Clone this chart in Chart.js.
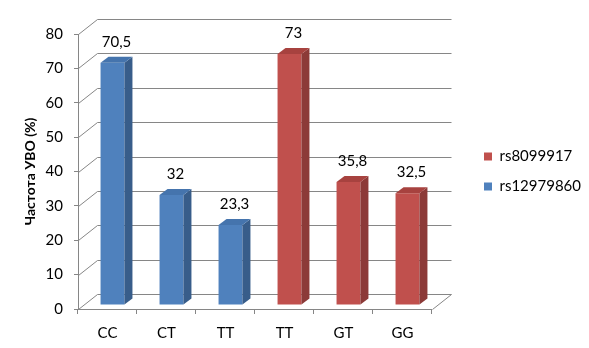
<!DOCTYPE html>
<html>
<head>
<meta charset="utf-8">
<script src="https://cdn.jsdelivr.net/npm/chart.js@4"></script>
<style>
  html, body { margin: 0; padding: 0; background: #fff; }
  #wrap { width: 589px; height: 348px; }
</style>
</head>
<body>
<div id="wrap"><canvas id="myChart"></canvas></div>
<script>
const genotypes = ['CC', 'CT', 'TT', 'TT', 'GT', 'GG'];
const rs8099917 = [null, null, null, 73, 35.8, 32.5];
const rs12979860 = [70.5, 32, 23.3, null, null, null];
const yTicks = [0, 10, 20, 30, 40, 50, 60, 70, 80];

const FONT = 'Lato, "Open Sans", sans-serif';
const GRID = '#868686';

// fake 3D: wall depth, bar offset from the front plane, bar depth
const WALL = { dx: 19, dy: -15 };
const SHIFT = { dx: 5, dy: -4 };
const DEPTH = { dx: 8, dy: -6 };

const shades = {
  rs8099917: { front: '#C0504D', side: '#8C3A38', top: '#A7423F' },
  rs12979860: { front: '#4F81BD', side: '#385D8A', top: '#4574AD' }
};

const crisp = v => Math.round(v) + 0.5;

function line(ctx, x1, y1, x2, y2) {
  ctx.beginPath();
  ctx.moveTo(x1, y1);
  ctx.lineTo(x2, y2);
  ctx.stroke();
}

function poly(ctx, pts, fill) {
  ctx.beginPath();
  ctx.moveTo(pts[0][0], pts[0][1]);
  for (let i = 1; i < pts.length; i++) ctx.lineTo(pts[i][0], pts[i][1]);
  ctx.closePath();
  ctx.fillStyle = fill;
  ctx.fill();
}

const box3d = {
  id: 'box3d',
  beforeDatasetsDraw(chart) {
    const { ctx, chartArea: a, scales: { y } } = chart;
    const x0 = crisp(a.left), x1 = crisp(a.right);
    ctx.save();
    ctx.strokeStyle = GRID;
    ctx.lineWidth = 1;
    yTicks.forEach(v => {
      const py = crisp(y.getPixelForValue(v));
      line(ctx, x0, py, x0 + WALL.dx, py + WALL.dy);
      line(ctx, x0 + WALL.dx, py + WALL.dy, x1 + WALL.dx, py + WALL.dy);
    });
    const y0 = crisp(y.getPixelForValue(0));
    line(ctx, x1, y0, x1 + WALL.dx, y0 + WALL.dy);
    ctx.restore();

    ctx.save();
    ctx.translate(SHIFT.dx, SHIFT.dy);
  },
  afterDatasetsDraw(chart) {
    const { ctx } = chart;
    ctx.restore();
    ctx.save();
    chart.data.datasets.forEach((ds, di) => {
      const meta = chart.getDatasetMeta(di);
      const c = shades[ds.label];
      meta.data.forEach((bar, i) => {
        const v = ds.data[i];
        if (v == null) return;
        const p = bar.getProps(['x', 'y', 'base', 'width'], true);
        const l = p.x - p.width / 2 + SHIFT.dx;
        const r = p.x + p.width / 2 + SHIFT.dx;
        const t = p.y + SHIFT.dy;
        const b = p.base + SHIFT.dy;
        poly(ctx, [[r, t], [r + DEPTH.dx, t + DEPTH.dy], [r + DEPTH.dx, b + DEPTH.dy], [r, b]], c.side);
        poly(ctx, [[l, t], [l + DEPTH.dx, t + DEPTH.dy], [r + DEPTH.dx, t + DEPTH.dy], [r, t]], c.top);

        ctx.fillStyle = '#000';
        ctx.font = '15px ' + FONT;
        ctx.textAlign = 'center';
        ctx.textBaseline = 'middle';
        ctx.fillText(String(v).replace('.', ','), p.x + SHIFT.dx + DEPTH.dx / 2, t + DEPTH.dy - 15);
      });
    });
    ctx.restore();
  }
};

new Chart(document.getElementById('myChart'), {
  type: 'bar',
  data: {
    labels: genotypes,
    datasets: [
      {
        label: 'rs8099917',
        data: rs8099917,
        backgroundColor: shades.rs8099917.front,
        borderWidth: 0
      },
      {
        label: 'rs12979860',
        data: rs12979860,
        backgroundColor: shades.rs12979860.front,
        borderWidth: 0
      }
    ]
  },
  options: {
    responsive: true,
    maintainAspectRatio: false,
    animation: false,
    skipNull: true,
    categoryPercentage: 1,
    barPercentage: 0.405,
    layout: { padding: { top: 34, right: -2, bottom: 0, left: 0 } },
    plugins: {
      tooltip: { enabled: false },
      legend: {
        position: 'right',
        fullSize: false,
        maxWidth: 200,
        labels: {
          boxWidth: 8,
          boxHeight: 8,
          padding: 15,
          color: '#000',
          font: { family: FONT, size: 15 }
        }
      }
    },
    scales: {
      x: {
        grid: { offset: true, drawOnChartArea: false, tickLength: 5, color: GRID },
        border: { color: GRID },
        ticks: { color: '#000', padding: 10, font: { family: FONT, size: 15 } },
        afterFit: s => { s.height = 39; }
      },
      y: {
        min: 0,
        max: 80,
        afterBuildTicks: s => { s.ticks = yTicks.map(v => ({ value: v })); },
        grid: { drawOnChartArea: false, tickLength: 4, color: GRID },
        border: { color: GRID },
        ticks: { color: '#000', padding: 11, font: { family: FONT, size: 15 } },
        title: {
          display: true,
          text: 'Частота УВО (%)',
          color: '#000',
          padding: { top: 22, bottom: 0 },
          font: { family: FONT, size: 14, weight: 'bold' }
        },
        afterFit: s => { s.width = 78; }
      },
      gap: {
        type: 'linear',
        position: 'right',
        display: true,
        grid: { display: false },
        border: { display: false },
        ticks: { display: false },
        afterFit: s => { s.width = 37; }
      }
    }
  },
  plugins: [box3d]
});
</script>
</body>
</html>
